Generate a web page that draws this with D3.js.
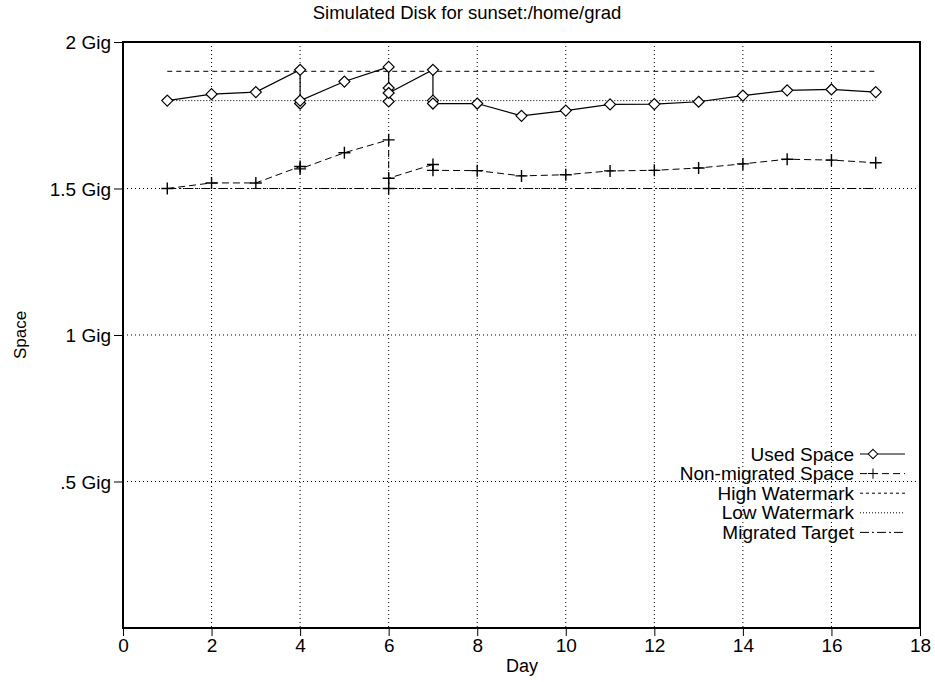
<!DOCTYPE html>
<html>
<head>
<meta charset="utf-8">
<script src="https://cdn.jsdelivr.net/npm/d3@7"></script>
<style>
    body { margin: 0; background: white; }
    svg { display: block; font-family: "Liberation Sans", Arial, sans-serif; }
</style>
</head>
<body>
<svg></svg>
<script>
// data (space in Gig)
let usedDays  = [1, 2, 3, 4, 4, 4, 5, 6, 6, 6, 6, 7, 7, 7, 8, 9, 10, 11, 12, 13, 14, 15, 16, 17];
let usedSpace = [1.80, 1.822, 1.829, 1.905, 1.79, 1.80, 1.865, 1.915, 1.797, 1.843, 1.826, 1.905, 1.80, 1.79,
                 1.79, 1.748, 1.766, 1.787, 1.788, 1.796, 1.817, 1.835, 1.838, 1.829];
let nonMigDays  = [1, 2, 3, 4, 4, 5, 6, 6, 6, 7, 7, 8, 9, 10, 11, 12, 13, 14, 15, 16, 17];
let nonMigSpace = [1.50, 1.519, 1.519, 1.575, 1.567, 1.622, 1.666, 1.50, 1.535, 1.582, 1.562,
                   1.561, 1.543, 1.547, 1.560, 1.562, 1.570, 1.584, 1.600, 1.597, 1.588];
let lineDays = [1, 17];
let highWatermark = 1.9;
let lowWatermark = 1.8;
let migratedTarget = 1.5;

let xTicks = [0, 2, 4, 6, 8, 10, 12, 14, 16, 18];
let yTicks = [0.5, 1, 1.5, 2];
let yTickLabels = [".5 Gig", "1 Gig", "1.5 Gig", "2 Gig"];

let legendLabels = ["Used Space", "Non-migrated Space", "High Watermark", "Low Watermark", "Migrated Target"];


function drawChart() {
    let width = 935;
    let height = 682;
    let left = 123, right = 920, top = 42, bottom = 628;

    let svg = d3.select("svg")
        .attr("width", width)
        .attr("height", height);

    let scaleX = d3.scaleLinear().domain([0, 18]).range([left, right]);
    let scaleY = d3.scaleLinear().domain([0, 2]).range([bottom, top]);

    // сетка
    svg.append("g")
        .selectAll("line")
        .data(xTicks.slice(1, -1))
        .enter()
        .append("line")
        .attr("x1", d => scaleX(d)).attr("x2", d => scaleX(d))
        .attr("y1", top).attr("y2", bottom)
        .attr("stroke", "#000").attr("stroke-width", 1)
        .attr("stroke-dasharray", "1,3");
    svg.append("g")
        .selectAll("line")
        .data(yTicks.slice(0, -1))
        .enter()
        .append("line")
        .attr("x1", left).attr("x2", right)
        .attr("y1", d => scaleY(d)).attr("y2", d => scaleY(d))
        .attr("stroke", "#000").attr("stroke-width", 1)
        .attr("stroke-dasharray", "1,3");

    // оси
    let axisX = d3.axisBottom(scaleX).tickValues(xTicks).tickSize(8).tickPadding(3);
    let axisY = d3.axisLeft(scaleY).tickValues(yTicks).tickSize(9).tickPadding(3)
        .tickFormat((d, i) => yTickLabels[i]);

    let gx = svg.append("g")
        .attr("transform", `translate(0, ${bottom})`)
        .call(axisX);
    let gy = svg.append("g")
        .attr("transform", `translate(${left}, 0)`)
        .call(axisY);
    for (let g of [gx, gy]) {
        g.select(".domain").remove();
        g.selectAll("text").style("font-size", "19px").attr("fill", "#000")
            .style("font-family", "'Liberation Sans', Arial, sans-serif");
        g.selectAll("line").attr("stroke", "#000");
    }
    gy.selectAll("text").attr("dy", "0.35em");

    // рамка
    svg.append("rect")
        .attr("x", left).attr("y", top)
        .attr("width", right - left).attr("height", bottom - top)
        .attr("fill", "none").attr("stroke", "#000").attr("stroke-width", 2);

    // горизонтальные уровни
    let levels = [
        [highWatermark, "5,4"],
        [lowWatermark, "1,2"],
        [migratedTarget, "9,3,2,3"]
    ];
    for (let lv of levels) {
        svg.append("line")
            .attr("x1", scaleX(lineDays[0])).attr("x2", scaleX(lineDays[1]))
            .attr("y1", scaleY(lv[0])).attr("y2", scaleY(lv[0]))
            .attr("stroke", "#000").attr("stroke-width", 1)
            .attr("stroke-dasharray", lv[1]);
    }

    let line = d3.line().x(d => scaleX(d[0])).y(d => scaleY(d[1]));

    let usedPts = d3.zip(usedDays, usedSpace);
    let nonMigPts = d3.zip(nonMigDays, nonMigSpace);

    svg.append("path")
        .datum(nonMigPts)
        .attr("d", line)
        .attr("fill", "none").attr("stroke", "#000").attr("stroke-width", 1)
        .attr("stroke-dasharray", "7,4");
    svg.append("path")
        .datum(usedPts)
        .attr("d", line)
        .attr("fill", "none").attr("stroke", "#000").attr("stroke-width", 1.2);

    // маркеры
    let diamond = "M0,-5.5L5.5,0L0,5.5L-5.5,0Z";
    let plus = "M-6,0H6M0,-6V6";
    svg.append("g").selectAll("path")
        .data(usedPts)
        .enter()
        .append("path")
        .attr("d", diamond)
        .attr("transform", d => `translate(${scaleX(d[0])}, ${scaleY(d[1])})`)
        .attr("fill", "white").attr("stroke", "#000").attr("stroke-width", 1.2);
    svg.append("g").selectAll("path")
        .data(nonMigPts)
        .enter()
        .append("path")
        .attr("d", plus)
        .attr("transform", d => `translate(${scaleX(d[0])}, ${scaleY(d[1])})`)
        .attr("fill", "none").attr("stroke", "#000").attr("stroke-width", 1.4);

    // подписи
    svg.append("text")
        .attr("x", 467).attr("y", 19)
        .attr("text-anchor", "middle")
        .style("font-size", "18.5px")
        .text("Simulated Disk for sunset:/home/grad");
    svg.append("text")
        .attr("x", 522).attr("y", 672)
        .attr("text-anchor", "middle")
        .style("font-size", "18px")
        .text("Day");
    svg.append("text")
        .attr("transform", `translate(26, ${(top + bottom) / 2}) rotate(-90)`)
        .attr("text-anchor", "middle")
        .style("font-size", "17px")
        .text("Space");

    // легенда
    let legendStyles = ["", "7,4", "3,3", "1,2", "9,3,2,3"];
    let legendMarks = [diamond, plus, null, null, null];
    let legend = svg.selectAll(".legendRow")
        .data(legendLabels)
        .enter()
        .append("g")
        .attr("class", "legendRow")
        .attr("transform", (d, i) => `translate(854, ${454 + i * 19.6})`);
    legend.append("text")
        .attr("text-anchor", "end")
        .attr("dy", "0.35em")
        .style("font-size", "19px")
        .text(d => d);
    legend.append("line")
        .attr("x1", 6).attr("x2", 51)
        .attr("stroke", "#000").attr("stroke-width", 1)
        .attr("stroke-dasharray", (d, i) => legendStyles[i]);
    legend.filter((d, i) => legendMarks[i] != null)
        .append("path")
        .attr("d", (d, i) => legendMarks[i])
        .attr("transform", "translate(19, 0) scale(0.85)")
        .attr("fill", "white").attr("stroke", "#000").attr("stroke-width", 1.2);
}

drawChart();
</script>
</body>
</html>
